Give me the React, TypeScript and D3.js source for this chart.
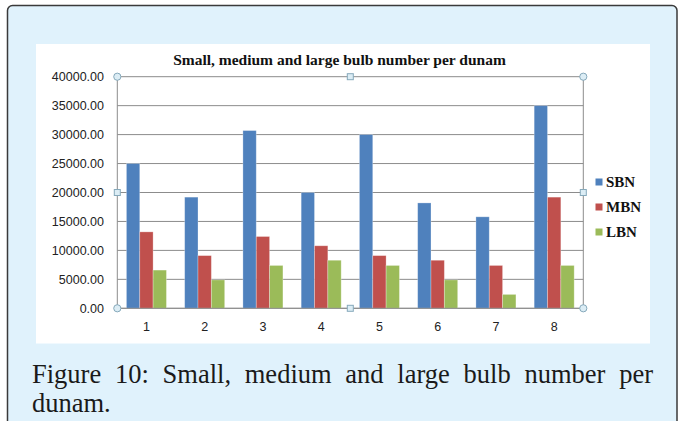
import React, { useLayoutEffect, useRef } from "react";
import * as d3 from "d3";

const categories = ["1", "2", "3", "4", "5", "6", "7", "8"];
const seriesNames = ["SBN", "MBN", "LBN"];
const sbn = [25000, 19200, 30700, 20000, 30000, 18200, 15800, 35000];
const mbn = [13200, 9100, 12400, 10800, 9100, 8300, 7400, 19200];
const lbn = [6600, 4900, 7400, 8300, 7400, 4900, 2400, 7400];
const yTicks = [0, 5000, 10000, 15000, 20000, 25000, 30000, 35000, 40000];
const colors = ["#4F81BD", "#C0504D", "#9BBB59"];
const title = "Small, medium and large bulb number per dunam";
const captionLine1 = "Figure 10: Small, medium and large bulb number per";
const captionLine2 = "dunam.";

export default function App() {
  const capRef = useRef<SVGTextElement>(null);
  const W = 685, H = 421;
  const left = 117.3, right = 583.3, top = 76.7, bottom = 308.3;
  const x0 = d3.scaleBand<string>().domain(categories).range([left, right]).paddingInner(0.313).paddingOuter(0.1565);
  const x1 = d3.scaleBand<string>().domain(seriesNames).range([0, x0.bandwidth()]);
  const y = d3.scaleLinear().domain([0, 40000]).range([bottom, top]);
  const series = [sbn, mbn, lbn];
  const fmt = d3.format(".2f");

  useLayoutEffect(() => {
    const el = capRef.current;
    if (!el) return;
    el.style.wordSpacing = "0px";
    const len = el.getComputedTextLength();
    const spaces = captionLine1.split(" ").length - 1;
    const target = 653 - 32;
    el.style.wordSpacing = `${(target - len) / spaces}px`;
  }, []);

  const handleFill = "#dcedf5";
  const handleStroke = "#86a9bb";
  const circles = [[left, top], [right, top], [left, bottom], [right, bottom]];
  const squares = [[(left + right) / 2, top], [(left + right) / 2, bottom], [left, (top + bottom) / 2], [right, (top + bottom) / 2]];

  return (
    <svg width={W} height={H} style={{ position: "absolute", left: 0, top: 0 }}>
      <rect x={0} y={0} width={W} height={H} fill="#ffffff" />
      <rect x={7.5} y={5.5} width={669.5} height={430} rx={5} fill="#e0f2fc" stroke="#3a3a3a" strokeWidth={1.5} />
      <rect x={36} y={44} width={614} height={299.5} fill="#ffffff" />
      <text x={339.5} y={64.5} textAnchor="middle" fontFamily="Liberation Serif" fontWeight="bold" fontSize={15.5} fill="#111">{title}</text>
      {yTicks.map((t) => (
        <g key={t}>
          <line x1={left} x2={right} y1={y(t)} y2={y(t)} stroke="#8c8c8c" strokeWidth={1} />
          <text x={104} y={y(t)} dy="0.35em" textAnchor="end" fontFamily="Liberation Sans" fontSize={12.5} fill="#222">{fmt(t)}</text>
        </g>
      ))}
      <line x1={left} x2={left} y1={top} y2={bottom} stroke="#8c8c8c" />
      <line x1={right} x2={right} y1={top} y2={bottom} stroke="#8c8c8c" />
      {categories.map((c, i) => (
        <g key={c} transform={`translate(${x0(c)},0)`}>
          {series.map((s, j) => (
            <rect key={j} x={x1(seriesNames[j])} y={y(s[i])} width={x1.bandwidth()} height={bottom - y(s[i])} fill={colors[j]} stroke="#ffffff" strokeOpacity={0.35} strokeWidth={0.8} />
          ))}
        </g>
      ))}
      <line x1={left} x2={right} y1={bottom} y2={bottom} stroke="#8c8c8c" />
      {categories.map((c) => (
        <text key={c} x={(x0(c) as number) + x0.bandwidth() / 2} y={330.5} textAnchor="middle" fontFamily="Liberation Sans" fontSize={12.5} fill="#222">{c}</text>
      ))}
      {circles.map((p, i) => (
        <circle key={i} cx={p[0]} cy={p[1]} r={3.6} fill={handleFill} stroke={handleStroke} strokeWidth={1} />
      ))}
      {squares.map((p, i) => (
        <rect key={i} x={p[0] - 3} y={p[1] - 3} width={6} height={6} fill={handleFill} stroke={handleStroke} strokeWidth={1} />
      ))}
      {seriesNames.map((n, j) => (
        <g key={n}>
          <rect x={595.5} y={178.5 + j * 25} width={7} height={7} fill={colors[j]} />
          <text x={606} y={187.3 + j * 25} fontFamily="Liberation Serif" fontWeight="bold" fontSize={15} fill="#111">{n}</text>
        </g>
      ))}
      <text ref={capRef} x={32} y={382.7} fontFamily="Liberation Serif" fontSize={26.5} fill="#1a1a1a">{captionLine1}</text>
      <text x={32} y={411.7} fontFamily="Liberation Serif" fontSize={26.5} fill="#1a1a1a">{captionLine2}</text>
    </svg>
  );
}
